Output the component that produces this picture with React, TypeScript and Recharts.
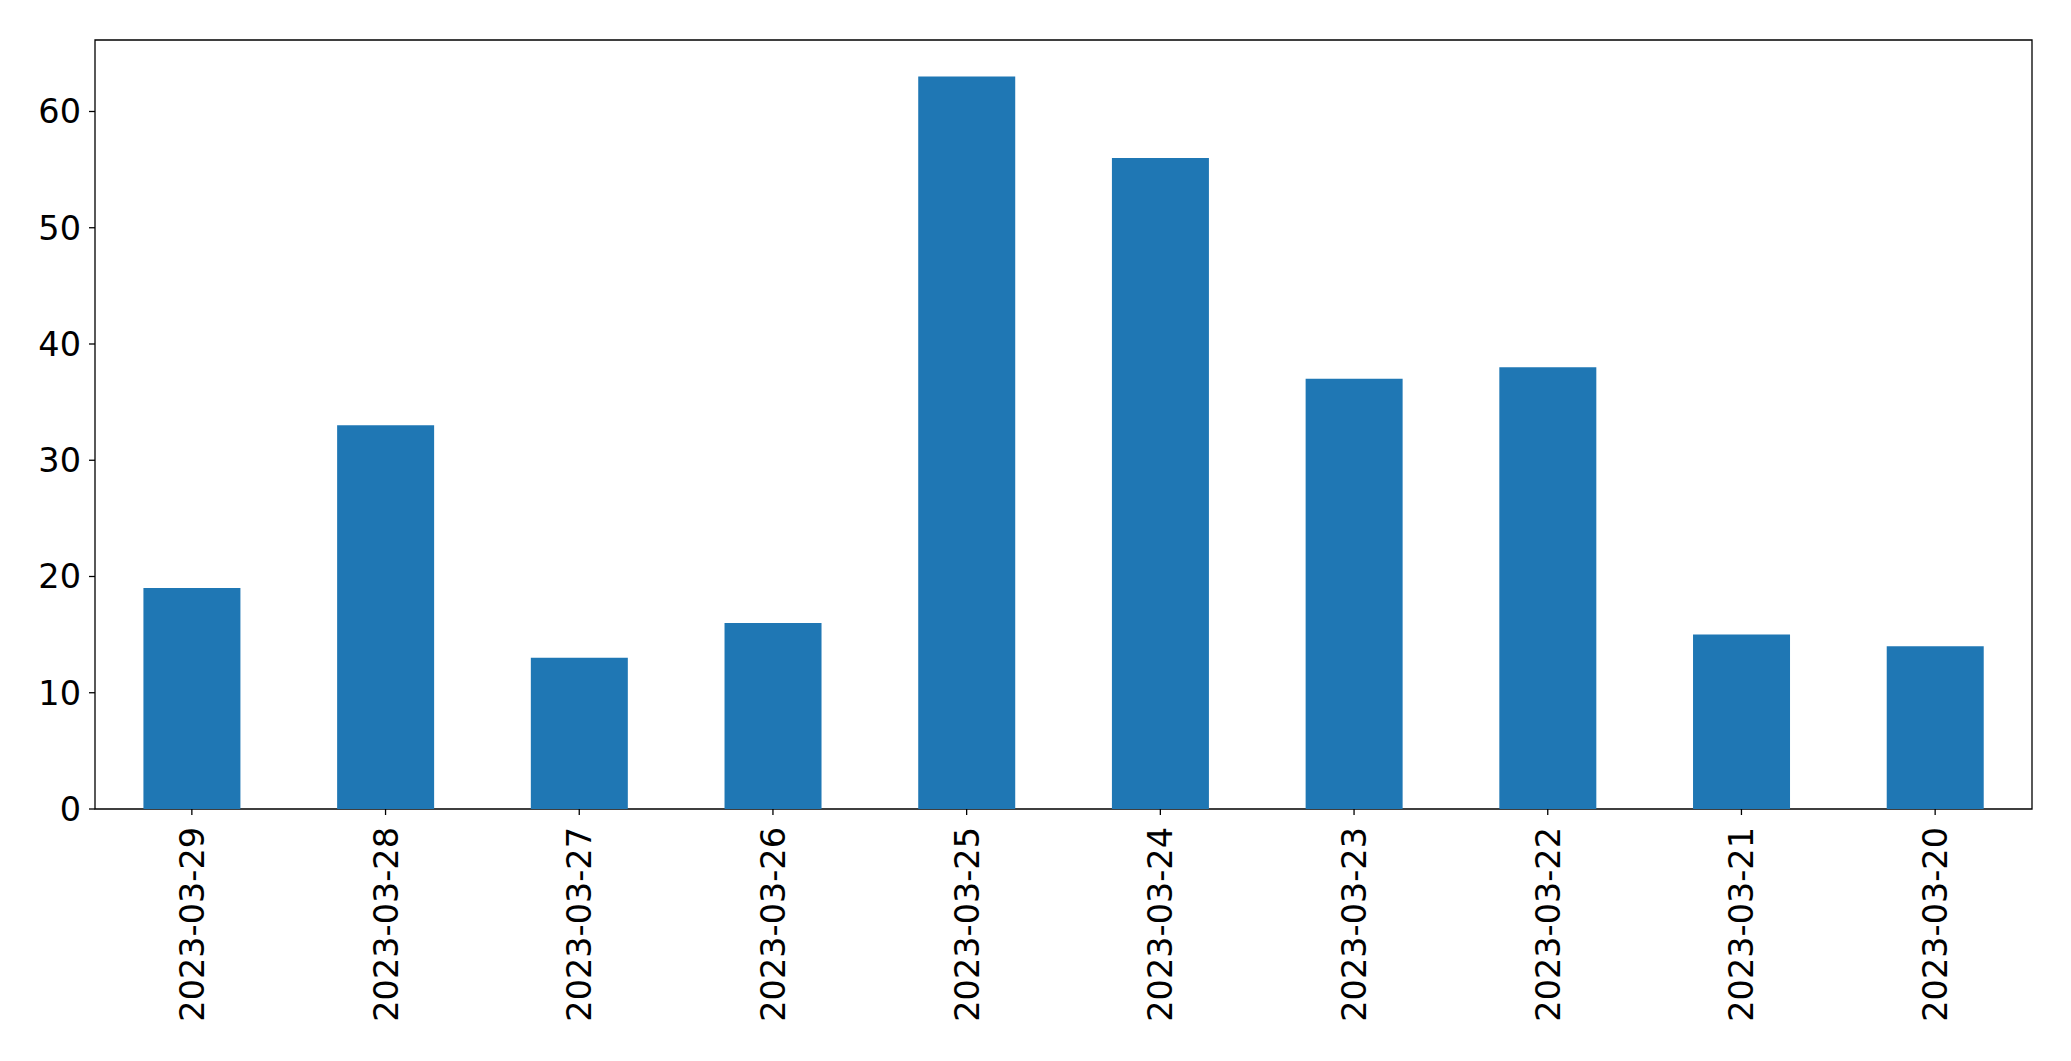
import React from 'react';
import { BarChart, Bar, XAxis, YAxis, ReferenceArea } from 'recharts';

const dates = [
  '2023-03-29', '2023-03-28', '2023-03-27', '2023-03-26', '2023-03-25',
  '2023-03-24', '2023-03-23', '2023-03-22', '2023-03-21', '2023-03-20',
];
const counts = [19, 33, 13, 16, 63, 56, 37, 38, 15, 14];
const yTicks = [0, 10, 20, 30, 40, 50, 60];

const data = dates.map((d, i) => ({ date: d, count: counts[i] }));

const FONT = '"DejaVu Sans", sans-serif';
const FONT_SIZE = 33.5;

const DateTick = (props: any) => {
  const { x, y, payload } = props;
  return (
    <text
      x={x}
      y={y}
      dy="0.36em"
      transform={`rotate(-90, ${x}, ${y})`}
      textAnchor="end"
      fill="#000"
      fontFamily={FONT}
      fontSize={FONT_SIZE}
    >
      {payload.value}
    </text>
  );
};

const App: React.FC = () => {
  return (
    <div style={{ position: 'absolute', left: 0, top: 0, background: '#fff' }}>
      <BarChart
        width={2071}
        height={1061}
        data={data}
        margin={{ top: 40, right: 39, left: 0, bottom: 0 }}
        barCategoryGap="25%"
      >
        <XAxis
          dataKey="date"
          interval={0}
          height={252}
          tick={<DateTick />}
          tickSize={6}
          tickMargin={12}
          axisLine={false}
          tickLine={{ stroke: '#000', strokeWidth: 1.3 }}
        />
        <YAxis
          width={95}
          domain={[0, 66.15]}
          ticks={yTicks}
          interval={0}
          tickSize={6}
          tickMargin={8}
          axisLine={false}
          tickLine={{ stroke: '#000', strokeWidth: 1.3 }}
          tick={{ fill: '#000', fontSize: FONT_SIZE, fontFamily: FONT }}
        />
        <Bar dataKey="count" fill="#1f77b4" isAnimationActive={false} />
        <ReferenceArea
          y1={0}
          y2={66.15}
          fill="none"
          stroke="#000"
          strokeWidth={1.3}
          ifOverflow="visible"
        />
      </BarChart>
    </div>
  );
};

export default App;
